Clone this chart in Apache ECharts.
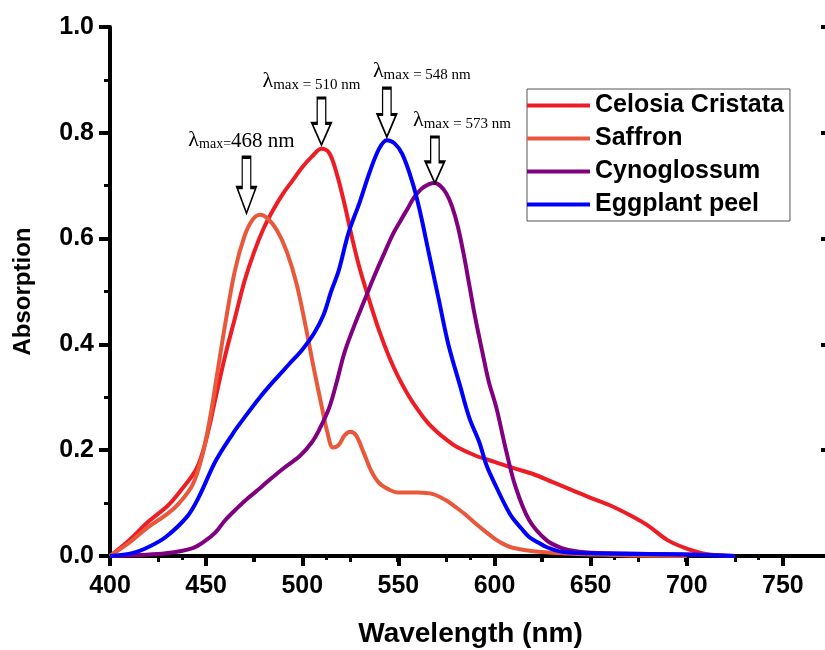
<!DOCTYPE html>
<html>
<head>
<meta charset="utf-8">
<script src="https://cdn.jsdelivr.net/npm/echarts@6/dist/echarts.min.js"></script>
<style>
  html, body { margin: 0; padding: 0; background: #fff; }
  #chart { width: 825px; height: 650px; }
</style>
</head>
<body>
<div id="chart"></div>
<script>
const seriesNames = ['Celosia Cristata', 'Saffron', 'Cynoglossum', 'Eggplant peel']

const celosiaNm = [400, 410, 420, 430, 436, 445, 450, 455, 460, 465, 470, 475, 480, 485, 490, 495, 500, 505, 510, 514, 518, 522, 526, 530, 535, 540, 545, 550, 555, 560, 565, 570, 575, 580, 590, 600, 610, 620, 630, 640, 650, 660, 670, 680, 690, 700, 710, 725]
const celosiaAbs = [0, 0.03, 0.065, 0.095, 0.12, 0.165, 0.22, 0.30, 0.38, 0.45, 0.52, 0.575, 0.62, 0.655, 0.685, 0.71, 0.735, 0.755, 0.77, 0.762, 0.722, 0.665, 0.6, 0.542, 0.482, 0.426, 0.378, 0.338, 0.305, 0.277, 0.253, 0.235, 0.22, 0.207, 0.19, 0.178, 0.166, 0.155, 0.14, 0.125, 0.11, 0.096, 0.078, 0.057, 0.03, 0.014, 0.004, 0]

const saffronNm = [400, 410, 420, 430, 436, 443, 448, 452, 456, 460, 465, 470, 474, 478, 482, 487, 492, 497, 502, 506, 510, 513, 516, 519, 522, 525, 528, 532, 536, 540, 545, 550, 560, 568, 575, 580, 585, 590, 595, 600, 605, 610, 620, 635, 650, 670, 700]
const saffronAbs = [0, 0.025, 0.055, 0.08, 0.10, 0.135, 0.19, 0.26, 0.35, 0.44, 0.54, 0.605, 0.635, 0.645, 0.638, 0.615, 0.575, 0.515, 0.43, 0.355, 0.285, 0.235, 0.205, 0.21, 0.228, 0.235, 0.228, 0.195, 0.16, 0.138, 0.126, 0.12, 0.12, 0.117, 0.105, 0.092, 0.078, 0.062, 0.047, 0.033, 0.022, 0.015, 0.009, 0.005, 0.003, 0.001, 0]

const cynoNm = [400, 415, 429, 443, 450, 455, 460, 466, 472, 478, 483, 490, 499, 505, 509, 514, 518, 522, 527, 532, 537, 543, 547, 551, 555, 558, 562, 566, 569, 572, 575, 578, 581, 584, 587, 590, 594, 597, 601, 606, 611, 618, 627, 635, 644, 660, 700, 725]
const cynoAbs = [0, 0.002, 0.005, 0.015, 0.03, 0.045, 0.068, 0.09, 0.11, 0.128, 0.144, 0.165, 0.19, 0.215, 0.24, 0.28, 0.33, 0.385, 0.435, 0.48, 0.525, 0.575, 0.607, 0.633, 0.658, 0.677, 0.694, 0.703, 0.705, 0.699, 0.685, 0.66, 0.622, 0.57, 0.51, 0.45, 0.38, 0.33, 0.28, 0.20, 0.13, 0.068, 0.03, 0.015, 0.008, 0.005, 0.003, 0]

const eggNm = [400, 412, 420, 429, 440, 446, 455, 464, 470, 478, 485, 493, 500, 506, 511, 515, 519, 524, 530, 535, 540, 544, 548, 552, 557, 561, 566, 571, 576, 582, 587, 592, 596, 601, 605, 609, 614, 618, 623, 627, 635, 650, 700, 725]
const eggAbs = [0, 0.006, 0.017, 0.036, 0.074, 0.11, 0.18, 0.232, 0.262, 0.30, 0.33, 0.362, 0.39, 0.42, 0.455, 0.50, 0.54, 0.61, 0.67, 0.725, 0.77, 0.786, 0.78, 0.76, 0.71, 0.655, 0.57, 0.485, 0.40, 0.323, 0.26, 0.216, 0.17, 0.13, 0.10, 0.074, 0.052, 0.036, 0.025, 0.017, 0.008, 0.005, 0.003, 0]

// λmax arrows: [wavelength, absorption] of the arrow tip, and label text
const peakCoords = [[471, 0.648], [510, 0.777], [544, 0.792], [569, 0.705]]
const peakLabels = ['{l|λ}{s|max=}{b|468 nm}', '{l|λ}{m|max = 510 nm}', '{l|λ}{m|max = 548 nm}', '{l|λ}{m|max = 573 nm}']

const colors = ['#ee1d25', '#e9583b', '#800080', '#0000ff']
const sans = 'Liberation Sans, Arial, sans-serif'
const serif = 'Liberation Serif, Times New Roman, serif'
const arrowPath = 'path://M5.5,0L14.5,0L14.5,27L20,27L10,50L0,27L5.5,27Z'

const zip = (xs, ys) => xs.map((x, i) => [x, ys[i]])

function peakMark(i, size, offset) {
  return {
    coord: peakCoords[i],
    symbolSize: size,
    label: { offset: offset, formatter: peakLabels[i] }
  }
}

const markStyle = {
  symbol: arrowPath,
  symbolOffset: [0, '-50%'],
  itemStyle: { color: '#fff', borderColor: '#000', borderWidth: 2 },
  label: {
    show: true,
    position: 'top',
    distance: 4,
    color: '#000',
    fontFamily: serif,
    rich: {
      l: { fontSize: 22, fontFamily: serif, verticalAlign: 'bottom', lineHeight: 22 },
      s: { fontSize: 14, fontFamily: serif, verticalAlign: 'bottom', lineHeight: 18 },
      b: { fontSize: 21, fontFamily: serif, verticalAlign: 'bottom', lineHeight: 22 },
      m: { fontSize: 15, fontFamily: serif, verticalAlign: 'bottom', lineHeight: 19 }
    }
  }
}

const datasets = [zip(celosiaNm, celosiaAbs), zip(saffronNm, saffronAbs), zip(cynoNm, cynoAbs), zip(eggNm, eggAbs)]
const marks = [
  [peakMark(1, [19, 47], [-10, 0])],
  [peakMark(0, [19, 56], [-5, 0])],
  [peakMark(3, [19, 46], [27, 0])],
  [peakMark(2, [19, 49], [35, 0])]
]

const chart = echarts.init(document.getElementById('chart'))
const black = { color: '#000', width: 4 }

chart.setOption({
  animation: false,
  backgroundColor: '#fff',
  grid: { left: 110, right: -54, top: 27, bottom: 94, containLabel: false, outerBoundsMode: 'none' },
  legend: {
    data: seriesNames,
    orient: 'vertical',
    left: 527,
    top: 89,
    padding: [4, 6, 4, 0],
    itemWidth: 63,
    itemHeight: 4,
    itemGap: 8,
    icon: 'rect',
    borderColor: '#555',
    borderWidth: 1,
    backgroundColor: '#fff',
    textStyle: { fontSize: 25, fontWeight: 'bold', fontFamily: sans, color: '#000' }
  },
  xAxis: [
    {
      type: 'value', min: 400, max: 800, interval: 50, position: 'bottom',
      axisLine: { lineStyle: black },
      axisTick: { length: 10, lineStyle: black },
      minorTick: { show: true, splitNumber: 2, length: 6, lineStyle: { color: '#000', width: 3 } },
      splitLine: { show: false },
      axisLabel: { fontSize: 25, fontWeight: 'bold', fontFamily: sans, color: '#000', margin: 18 },
      name: 'Wavelength (nm)', nameLocation: 'middle', nameGap: 64,
      nameTextStyle: { fontSize: 28, fontWeight: 'bold', fontFamily: sans, color: '#000', padding: [0, 48, 0, 0] }
    },
    {
      type: 'value', min: 0, max: 10.68, interval: 2, position: 'top',
      axisLine: { lineStyle: black },
      axisTick: { inside: true, length: 6, lineStyle: black },
      minorTick: { show: true, splitNumber: 2, length: 4, lineStyle: { color: '#000', width: 3 } },
      splitLine: { show: false },
      axisLabel: { show: false }
    }
  ],
  yAxis: [
    {
      type: 'value', min: 0, max: 1, interval: 0.2, position: 'left',
      axisLine: { show: true, lineStyle: black },
      axisTick: { show: true, length: 11, lineStyle: black },
      minorTick: { show: true, splitNumber: 2, length: 6, lineStyle: { color: '#000', width: 3 } },
      splitLine: { show: false },
      axisLabel: { fontSize: 25, fontWeight: 'bold', fontFamily: sans, color: '#000', margin: 16, formatter: v => v.toFixed(1) },
      name: 'Absorption', nameLocation: 'middle', nameGap: 75, nameRotate: 90,
      nameTextStyle: { fontSize: 24, fontWeight: 'bold', fontFamily: sans, color: '#000' }
    },
    {
      type: 'value', min: 0, max: 1, interval: 0.2, position: 'right', offset: -48,
      axisLine: { show: true, lineStyle: black },
      axisTick: { show: true, inside: true, length: 10, lineStyle: black },
      minorTick: { show: true, splitNumber: 2, length: 6, lineStyle: { color: '#000', width: 3 } },
      splitLine: { show: false },
      axisLabel: { show: false }
    }
  ],
  series: seriesNames.map((name, i) => ({
    name: name,
    type: 'line',
    xAxisIndex: 0,
    yAxisIndex: 0,
    data: datasets[i],
    showSymbol: false,
    smooth: 0.35,
    color: colors[i],
    lineStyle: { width: 4, color: colors[i] },
    z: 2,
    markPoint: Object.assign({ data: marks[i], z: 5 }, markStyle)
  }))
})
</script>
</body>
</html>
